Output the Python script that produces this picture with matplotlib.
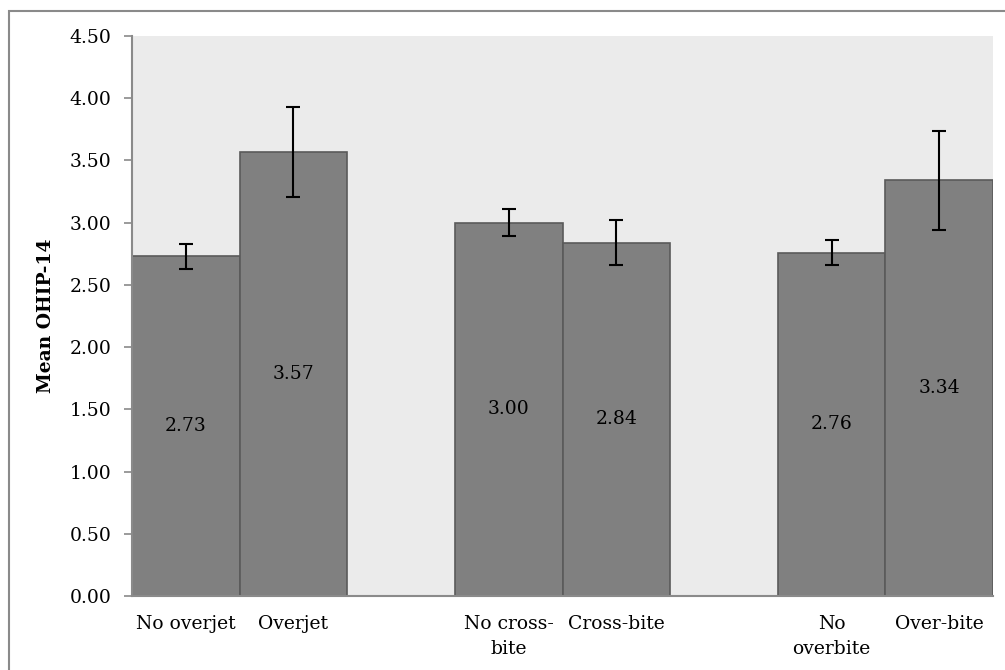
import numpy as np
import matplotlib.pyplot as plt
from matplotlib.patches import Rectangle

# data
labels = ["No overjet", "Overjet", "No cross-\nbite", "Cross-bite", "No\noverbite", "Over-bite"]
means = [2.73, 3.57, 3.00, 2.84, 2.76, 3.34]
errs = [0.10, 0.36, 0.11, 0.18, 0.10, 0.40]

# bars sit in 8 slots, with an empty slot between each pair
slots = np.array([0, 1, 3, 4, 6, 7])

plt.rcParams['font.family'] = ['DejaVu Serif']
fs = 13.5
fig = plt.figure(figsize=(10.05, 6.70), dpi=100)
ax = fig.add_axes([132/1005, 1-596/670, (993-132)/1005, (596-36)/670])
ax.set_facecolor('#ebebeb')

ax.bar(slots, means, width=1.0, color='#808080', edgecolor='#5a5a5a', lw=1.2,
       yerr=errs, error_kw=dict(ecolor='black', elinewidth=1.5, capsize=5, capthick=1.5))

for x, m in zip(slots, means):
    ax.text(x, m/2, "%.2f" % m, ha='center', va='center', fontsize=fs)

ax.set_xlim(-0.5, 7.5)
ax.set_ylim(0, 4.5)
ax.set_yticks(np.arange(0, 4.51, 0.5))
ax.set_yticklabels(["%.2f" % v for v in np.arange(0, 4.51, 0.5)], fontsize=fs)
ax.set_xticks(slots)
ax.set_xticklabels(labels, fontsize=fs, va='top', linespacing=1.45)
ax.tick_params(axis='x', length=0, pad=14)
ax.tick_params(axis='y', length=6, width=1.2, color='#8a8a8a', pad=9)
for s in ['top', 'right']:
    ax.spines[s].set_visible(False)
for s in ['left', 'bottom']:
    ax.spines[s].set_color('#8a8a8a')
    ax.spines[s].set_linewidth(1.5)

ax.set_ylabel("Mean OHIP-14", fontsize=fs, fontweight='bold', labelpad=10)

# outer chart border
fig.patches.append(Rectangle((9/1005, -0.05), 1.1, 1 - 11/670 + 0.05, transform=fig.transFigure,
                             fill=False, edgecolor='#8a8a8a', lw=1.5))

fig.savefig("out.png", dpi=100)
